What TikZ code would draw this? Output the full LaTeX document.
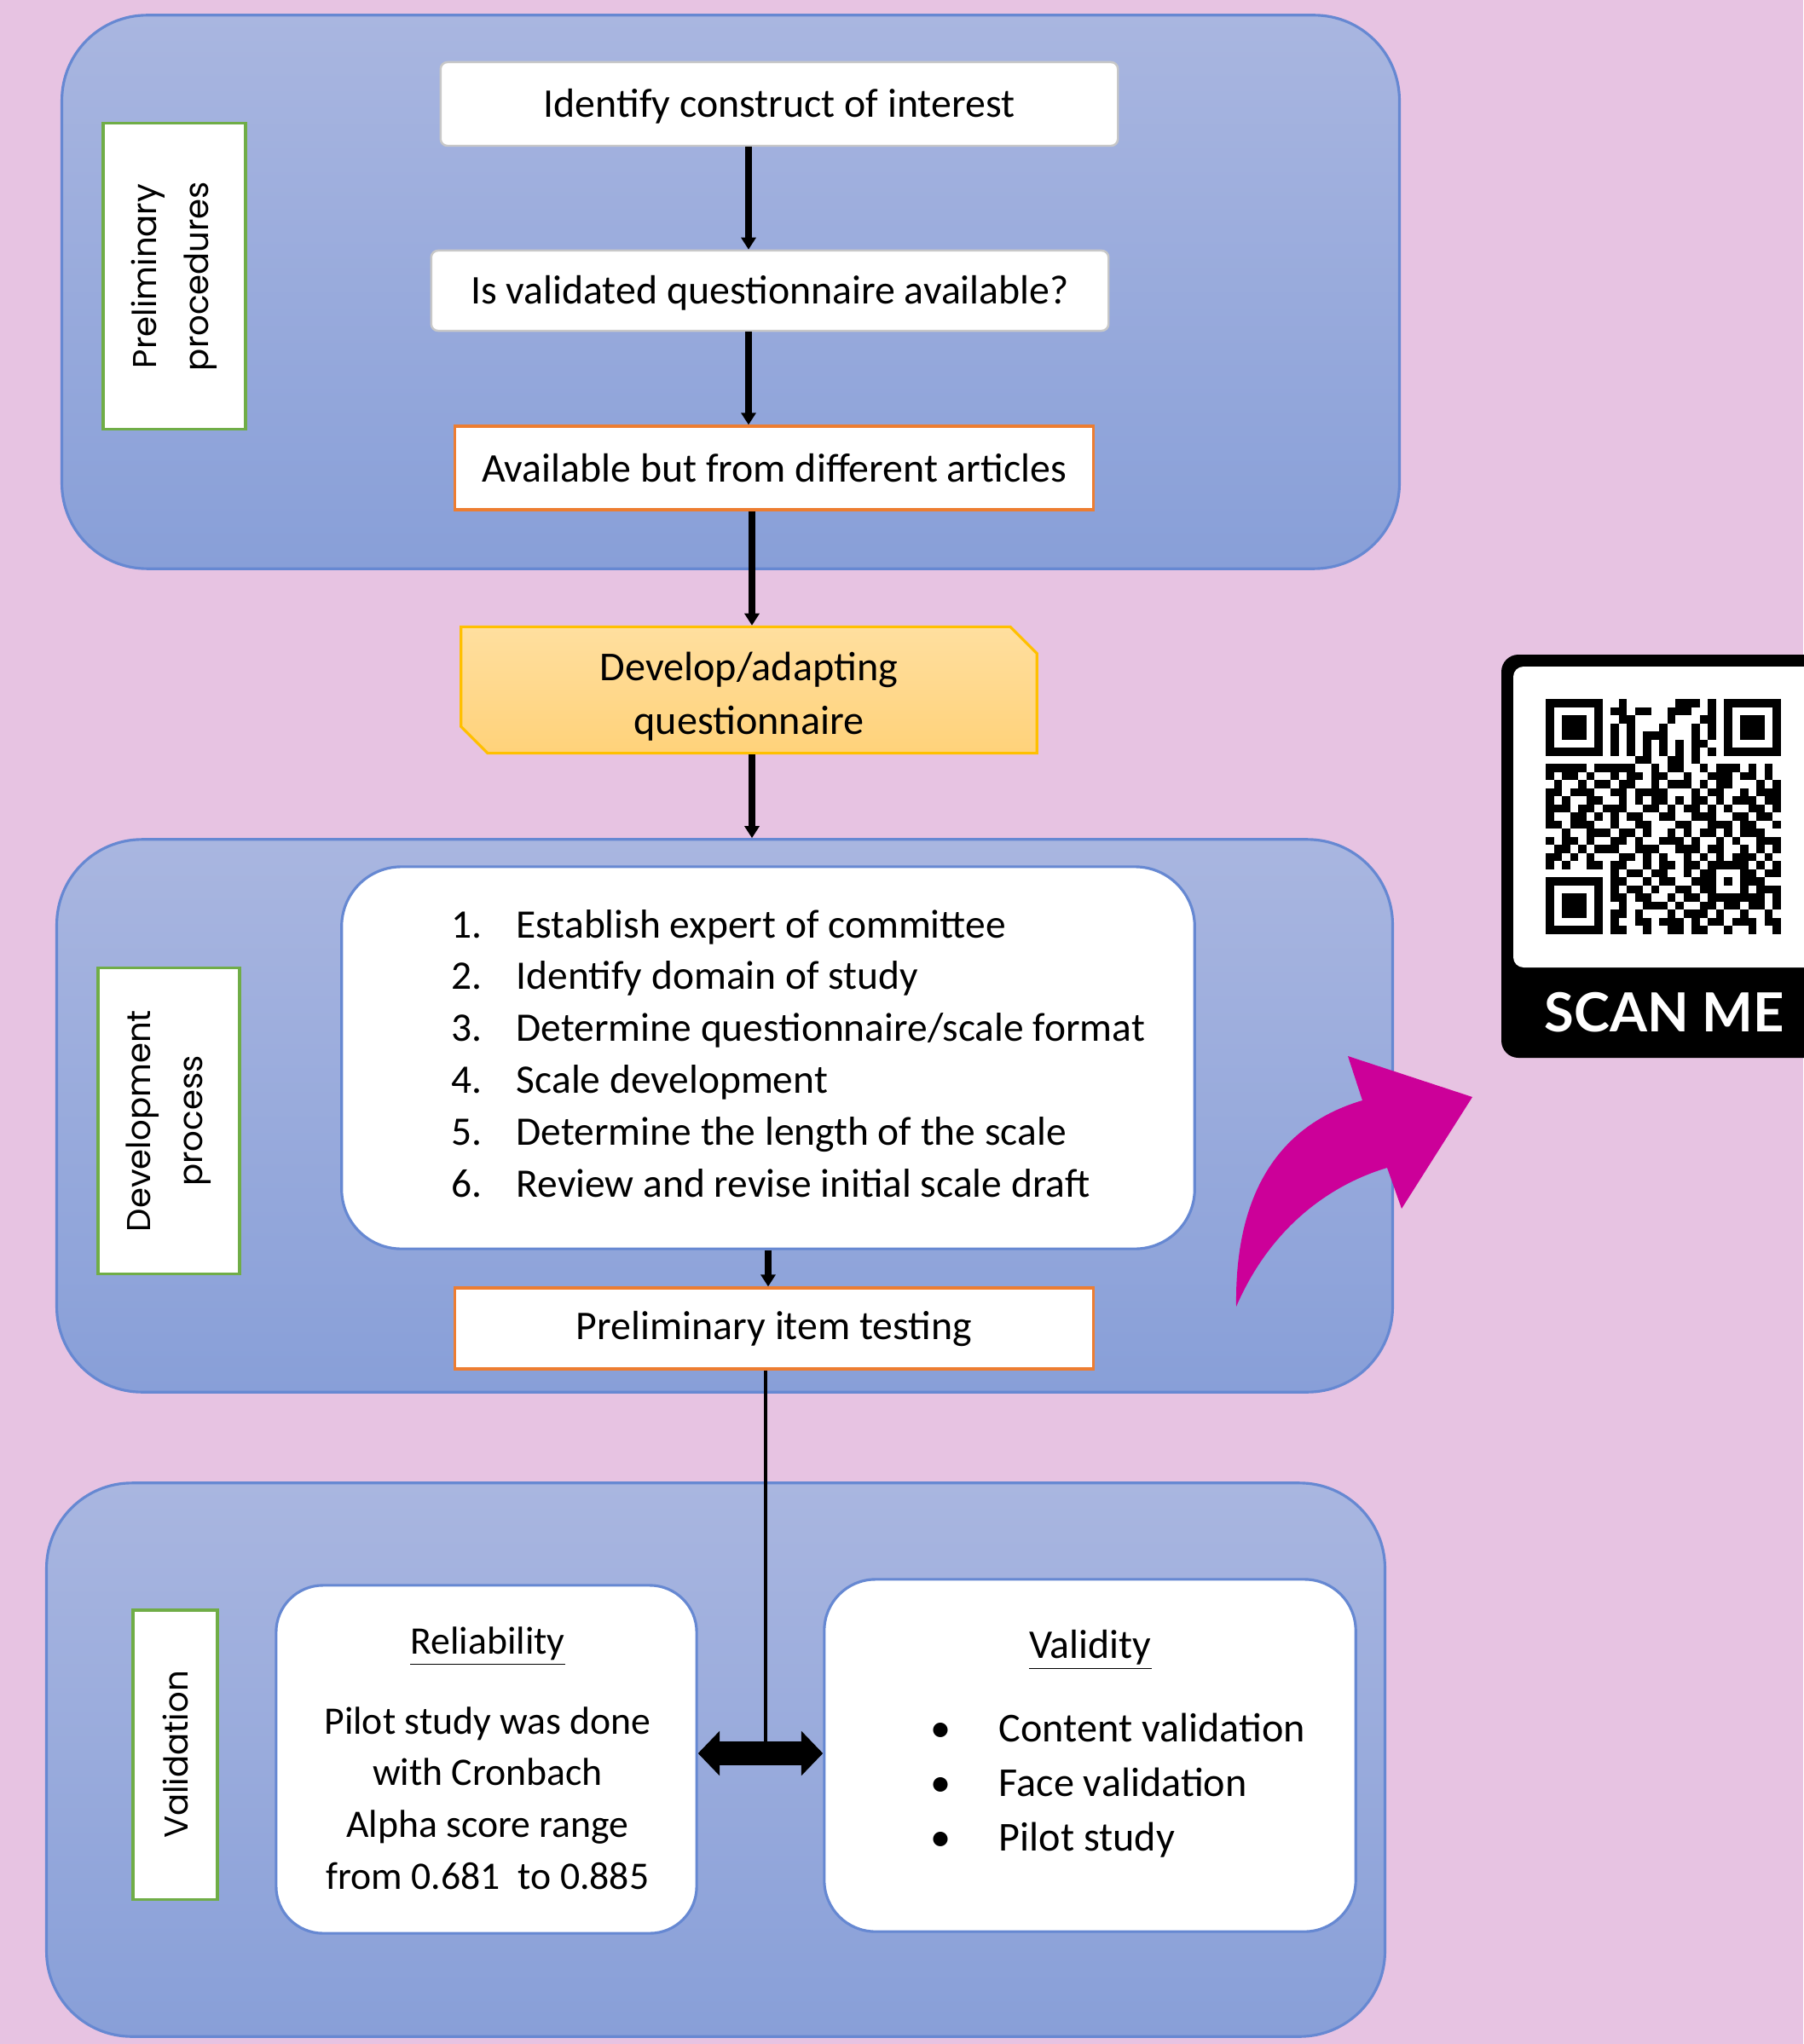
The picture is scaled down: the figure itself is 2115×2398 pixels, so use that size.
\documentclass[tikz,border=0pt]{standalone}
\usepackage{fontspec}
\setmainfont{Carlito}
\newfontfamily\sidefont{Poppins}
\newfontfamily\scanfont{Lato}
\usetikzlibrary{arrows.meta,shapes.misc}

\definecolor{bgpink}{HTML}{E7C3E2}
\definecolor{pantop}{HTML}{A9B6E0}
\definecolor{panbot}{HTML}{889FD8}
\definecolor{panline}{HTML}{6688D2}
\definecolor{orangeb}{HTML}{ED7D31}
\definecolor{greenb}{HTML}{70AD47}
\definecolor{devtop}{HTML}{FFDF9F}
\definecolor{devbot}{HTML}{FFD27A}
\definecolor{devline}{HTML}{FFC000}
\definecolor{magentaa}{HTML}{CC0099}
\definecolor{grayb}{HTML}{C8C8C8}

\begin{document}
\begin{tikzpicture}[x=0.01cm,y=-0.01cm,
  panel/.style={draw=panline, line width=0.9pt, top color=pantop, bottom color=panbot, rounded corners=1cm, inner sep=0pt},
  sidebox/.style={draw=greenb, line width=0.9pt, fill=white, inner sep=0pt, rotate=90, align=center, font=\sidefont\fontsize{11}{17.4}\selectfont},
  plainbox/.style={draw=grayb, line width=0.7pt, fill=white, rounded corners=0.08cm, font=\fontsize{13.6}{17}\selectfont},
  orangebox/.style={draw=orangeb, line width=0.9pt, fill=white, font=\fontsize{13.6}{17}\selectfont},
  roundbox/.style={draw=panline, line width=0.9pt, fill=white, inner sep=0pt},
  txt/.style={font=\fontsize{13}{17.3}\selectfont, inner sep=0pt},
  arr/.style={line width=2.2pt, -{Triangle[length=4pt,width=4.8pt]}},
]
\useasboundingbox (0,0) rectangle (2115,2398);
\fill[bgpink] (0,0) rectangle (2115,2398);

% panels
\node[panel, minimum width=15.68cm, minimum height=6.49cm] (p1) at (857,342.5) {};
\node[panel, minimum width=15.66cm, minimum height=6.48cm] (p2) at (850,1309) {};
\node[panel, minimum width=15.69cm, minimum height=6.49cm] (p3) at (839.5,2064.5) {};

% side labels
\node[sidebox, minimum width=3.58cm, minimum height=1.67cm] (s1) at (204.5,324) {Preliminary\\procedures};
\node[sidebox, minimum width=3.58cm, minimum height=1.66cm] (s2) at (198,1315) {Development\\process};
\node[sidebox, minimum width=3.39cm, minimum height=0.99cm] (s3) at (205.5,2058.5) {Validation};

% top boxes
\node[plainbox, minimum width=7.94cm, minimum height=0.98cm] (b1) at (914,122) {\raisebox{-0.03cm}[\height][\depth]{Identify construct of interest}};
\node[plainbox, minimum width=7.94cm, minimum height=0.94cm] (b2) at (903,341) {\raisebox{-0.03cm}[\height][\depth]{Is validated questionnaire available?}};
\node[orangebox, minimum width=7.48cm, minimum height=0.98cm] (b3) at (908,549) {Available but from different articles};

% develop box
\node[chamfered rectangle, chamfered rectangle corners={north east,south west}, chamfered rectangle xsep=0.2cm,
      draw=devline, line width=0.9pt, top color=devtop, bottom color=devbot,
      minimum width=6.75cm, minimum height=1.45cm, inner sep=0pt,
      font=\fontsize{13.7}{17.9}\selectfont] (dev) at (878.5,809.5) {\raisebox{-0.08cm}[\height][\depth]{\begin{tabular}{@{}c@{}}Develop/adapting\\questionnaire\end{tabular}}};

% development list
\node[roundbox, rounded corners=0.7cm, minimum width=10cm, minimum height=4.48cm] (lst) at (901,1241) {};
\node[txt, anchor=base west, font=\fontsize{13.5}{17.3}\selectfont] (items) at (529,1100) {\begin{tabular}[t]{@{}l@{}}
\makebox[0.76cm][l]{1.}Establish expert of committee\\
\makebox[0.76cm][l]{2.}Identify domain of study\\
\makebox[0.76cm][l]{3.}Determine questionnaire/scale format\\
\makebox[0.76cm][l]{4.}Scale development\\
\makebox[0.76cm][l]{5.}Determine the length of the scale\\
\makebox[0.76cm][l]{6.}Review and revise initial scale draft
\end{tabular}};

\node[orangebox, minimum width=7.48cm, minimum height=0.95cm] (pit) at (908,1558.5) {Preliminary item testing};

% validation boxes
\node[roundbox, rounded corners=0.55cm, minimum width=4.93cm, minimum height=4.08cm] (rel) at (570.5,2064) {};
\node[roundbox, rounded corners=0.6cm, minimum width=6.23cm, minimum height=4.13cm] (val) at (1278.5,2059.5) {};

\node[txt, anchor=base] (relh) at (572,1940) {\underline{Reliability}};
\node[txt, anchor=base] (relb) at (572,2034) {\begin{tabular}[t]{@{}c@{}}
Pilot study was done\\ with Cronbach\\ Alpha score range\\ from 0.681\ \ to 0.885
\end{tabular}};

\node[txt, anchor=base, font=\fontsize{13.6}{17.3}\selectfont] (valh) at (1279,1945) {\underline{Validity}};
\node[txt, anchor=base west, font=\fontsize{13.7}{18.2}\selectfont] (valb) at (1091,2043) {\begin{tabular}[t]{@{}l@{}}
\makebox[0.8cm][l]{\textbullet}Content validation\\
\makebox[0.8cm][l]{\textbullet}Face validation\\
\makebox[0.8cm][l]{\textbullet}Pilot study
\end{tabular}};

% connectors
\coordinate (ax1) at (878,0);
\coordinate (ax2) at (882,0);
\coordinate (ax3) at (901,0);
\draw[arr] (b1.south -| ax1) -- (b2.north -| ax1);
\draw[arr] (b2.south -| ax1) -- (b3.north -| ax1);
\draw[arr] (b3.south -| ax2) -- (dev.north -| ax2);
\draw[arr] (dev.south -| ax2) -- (p2.north -| ax2);
\draw[arr] (lst.south -| ax3) -- (pit.north -| ax3);

\coordinate (dy) at (0,2057);
\coordinate (dj) at (898,2043);
\draw[line width=1.3pt] (pit.south -| dj) -- (dj);
\draw[line width=8.2pt, {Triangle[length=7.2pt,width=14.5pt]}-{Triangle[length=7.2pt,width=14.5pt]}] (rel.east |- dy) -- (val.west |- dy);

% magenta curved arrow
\fill[magentaa] (1450,1533) .. controls (1448,1400) and (1500,1320) .. (1598,1291)
  -- (1581,1239) -- (1727,1287) -- (1644,1418) -- (1627,1370)
  .. controls (1560,1390) and (1490,1440) .. (1450,1533) -- cycle;

% QR code panel
\fill[black, rounded corners=0.2cm] (1761,768) rectangle (2160,1241);
\fill[white, rounded corners=0.12cm] (1775,782) rectangle (2160,1135);
\node[text=white, font=\scanfont\bfseries\fontsize{18}{22}\selectfont, inner sep=0pt] (scan) at (1952,1188) {SCAN ME};
\foreach \qrow [count=\qi from 0] in {
{1,1,1,1,1,1,1,0,0,1,0,0,0,0,0,0,1,1,1,0,1,0,1,1,1,1,1,1,1},
{1,0,0,0,0,0,1,0,1,1,0,1,1,0,0,1,1,1,0,0,1,0,1,0,0,0,0,0,1},
{1,0,1,1,1,0,1,0,0,1,1,0,0,0,0,1,0,0,0,1,1,0,1,0,1,1,1,0,1},
{1,0,1,1,1,0,1,0,1,0,1,0,0,0,1,0,0,0,1,0,1,0,1,0,1,1,1,0,1},
{1,0,1,1,1,0,1,0,1,0,1,0,1,1,1,0,0,0,1,0,1,0,1,0,1,1,1,0,1},
{1,0,0,0,0,0,1,0,1,0,1,0,1,0,1,0,1,0,1,1,0,0,1,0,0,0,0,0,1},
{1,1,1,1,1,1,1,0,1,0,1,0,1,0,1,0,1,0,1,0,1,0,1,1,1,1,1,1,1},
{0,0,0,0,0,0,0,0,0,0,0,1,1,0,0,1,1,0,1,0,0,0,0,0,0,0,0,0,0},
{1,1,1,1,1,0,1,1,1,1,1,0,0,1,0,1,1,0,0,1,0,1,1,1,0,1,0,1,0},
{1,0,1,1,0,1,0,0,1,0,1,1,0,1,1,0,0,1,0,0,1,1,1,0,1,1,0,1,0},
{0,1,0,0,1,0,1,1,0,1,1,0,0,1,0,1,1,1,0,1,0,1,1,0,0,0,1,0,1},
{1,1,0,1,1,1,0,0,1,1,0,1,1,1,1,0,0,0,1,0,1,1,0,0,1,0,1,1,1},
{1,0,1,0,0,1,1,0,0,1,0,1,0,1,1,0,1,0,1,1,0,1,0,1,1,1,0,1,1},
{1,1,1,0,1,1,0,1,1,1,0,0,1,1,0,1,0,1,1,0,1,0,1,0,0,1,1,0,1},
{1,0,0,1,1,0,1,0,1,0,1,1,0,0,1,1,0,0,1,1,1,0,0,1,1,0,1,1,0},
{1,1,0,1,1,1,0,0,1,0,0,1,1,0,0,0,1,1,0,0,1,1,1,0,1,1,0,0,1},
{0,0,1,0,0,1,1,1,0,1,1,0,1,0,0,1,0,1,0,1,1,0,1,0,1,1,1,0,0},
{1,0,1,1,0,1,0,0,1,1,0,1,0,0,1,1,1,0,1,0,0,1,0,1,0,0,1,1,1},
{0,1,1,0,1,0,1,1,1,0,0,1,1,1,0,0,1,1,1,0,1,1,0,0,1,0,1,0,1},
{1,1,0,1,0,1,0,0,0,1,1,0,1,0,1,0,0,1,0,1,0,1,0,1,1,1,0,1,0},
{1,0,1,0,0,1,1,0,1,1,0,0,1,0,1,1,0,1,1,0,1,1,1,1,1,0,1,0,1},
{0,0,0,0,0,0,0,0,1,0,1,1,0,1,1,0,0,1,0,1,1,0,0,0,1,1,0,1,1},
{1,1,1,1,1,1,1,0,1,1,0,0,1,0,1,1,0,0,1,1,1,0,1,0,1,1,1,0,0},
{1,0,0,0,0,0,1,0,1,0,1,1,0,1,0,0,1,1,0,1,1,0,0,0,1,0,1,1,1},
{1,0,1,1,1,0,1,0,1,1,0,1,1,0,0,1,0,1,1,0,1,1,1,1,1,1,1,0,1},
{1,0,1,1,1,0,1,0,0,1,0,0,1,1,1,0,1,0,0,1,1,0,1,1,0,1,1,0,1},
{1,0,1,1,1,0,1,0,1,1,0,1,0,0,0,1,0,1,1,1,0,1,0,0,1,0,0,1,0},
{1,0,0,0,0,0,1,0,1,0,0,1,1,0,1,1,1,0,1,0,1,1,0,1,1,1,0,1,1},
{1,1,1,1,1,1,1,0,1,1,0,0,1,0,0,1,1,0,1,1,0,0,1,0,0,1,0,0,1}}
{\foreach \qv [count=\qj from 0] in \qrow {\ifnum\qv=1 \fill (1813.3+9.49*\qj,820+9.51*\qi) rectangle +(9.6,9.6);\fi}}

\end{tikzpicture}
\end{document}
